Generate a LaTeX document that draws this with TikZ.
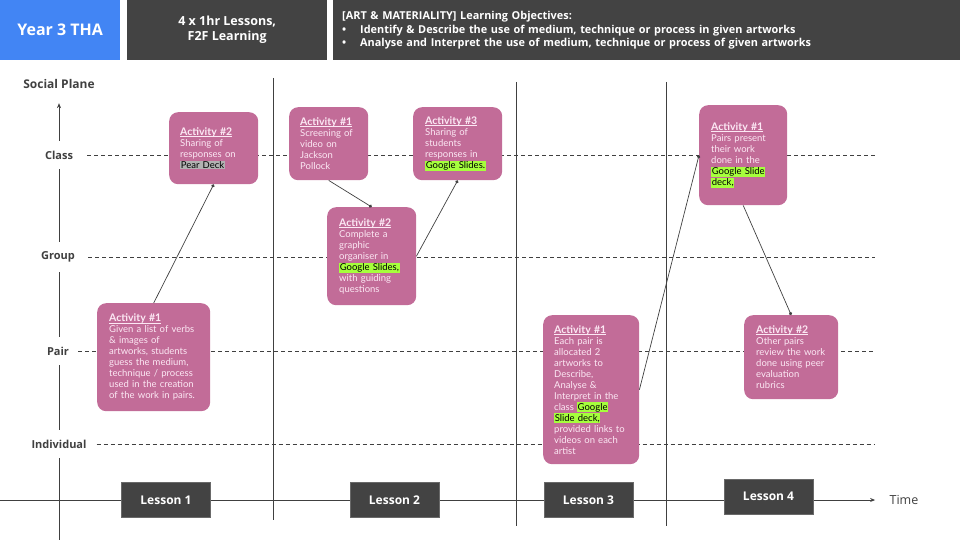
\documentclass[tikz,border=0pt]{standalone}
\usepackage{fontspec}
\setmainfont{Lato}
\newfontfamily\headfont{Open Sans}
\usetikzlibrary{arrows.meta, positioning, calc}
\definecolor{headblue}{RGB}{66,133,244}
\definecolor{headgray}{RGB}{67,67,67}
\definecolor{actpink}{RGB}{194,108,152}
\definecolor{acttext}{RGB}{252,232,244}
\definecolor{hlgreen}{RGB}{166,255,60}
\definecolor{hlgray}{RGB}{178,178,178}
\definecolor{axisgray}{RGB}{64,64,64}
\newcommand{\hlgreen}[1]{{\setlength{\fboxsep}{0.6pt}\colorbox{hlgreen}{\textcolor{black}{#1}}}}
\newcommand{\hlgray}[1]{{\setlength{\fboxsep}{0.6pt}\colorbox{hlgray}{\textcolor{black}{#1}}}}
\newcommand{\acttitle}[1]{{\fontsize{10.5}{11}\selectfont\bfseries\setbox0\hbox{#1}\rlap{\rule[-1.4pt]{\wd0}{0.6pt}}\box0}}

\begin{document}
\begin{tikzpicture}[x=1pt, y=-1pt,
  headbox/.style={fill=headgray, text=white, font=\headfont\bfseries\fontsize{12.5}{15}\selectfont, align=center, anchor=north west, inner sep=0pt},
  plane/.style={fill=white, text=axisgray, font=\headfont\bfseries\fontsize{11}{13}\selectfont, inner xsep=3pt, inner ysep=10pt},
  grid/.style={axisgray, line width=0.7pt, dash pattern=on 4pt off 3pt},
  sep/.style={axisgray, line width=0.8pt},
  lesson/.style={fill=headgray, draw=headgray!80, text=white, font=\headfont\bfseries\fontsize{12}{14}\selectfont, minimum width=89, minimum height=35, inner sep=0pt},
  act/.style={fill=actpink, rounded corners=9pt, text=acttext, inner sep=0pt, align=left, anchor=north west, font=\fontsize{9.5}{11}\selectfont},
  link/.style={axisgray, line width=0.7pt, -{Circle[length=3.2pt]}}]
  \useasboundingbox (0,0) rectangle (960,540);

  % header
  \node[headbox, fill=headblue, minimum width=120, minimum height=60, font=\headfont\bfseries\fontsize{16}{19}\selectfont] (year) at (0,0) {Year 3 THA};
  \node[headbox, minimum width=200, minimum height=60] (lessons) at (127,0) {4 x 1hr Lessons,\\F2F Learning};
  \node[headbox, minimum width=627, minimum height=60, text width=609, inner xsep=9pt, align=left, font=\headfont\bfseries\fontsize{10.9}{13.8}\selectfont] (objectives) at (333,0)
    {[ART \& MATERIALITY] Learning Objectives:\\
     \makebox[18pt][l]{\textbullet}Identify \& Describe the use of medium, technique or process in given artworks\\
     \makebox[18pt][l]{\textbullet}Analyse and Interpret the use of medium, technique or process of given artworks};

  % axes
  \node[text=axisgray, font=\headfont\bfseries\fontsize{12}{14}\selectfont] (social) at (59,84) {Social Plane};
  \coordinate (vbot) at (59,540);
  \draw[sep, -{Stealth[length=5pt, width=4pt]}] (vbot) -- ($(social.south)+(0,11)$);
  \node[text=axisgray, font=\headfont\fontsize{12.5}{15}\selectfont] (time) at (904,500) {Time};
  \coordinate (tstart) at (0,500);
  \draw[sep, -{Stealth[length=5pt, width=4pt]}] (tstart) -- ([xshift=-11pt]time.west);

  \node[plane] (cls) at (59,155) {Class};
  \node[plane] (grp) at (58,257) {Group};
  \node[plane] (pair) at (58,351) {Pair};
  \node[plane] (ind) at (59,444) {Individual};
  \coordinate (dend) at (875,0);
  \draw[grid] ([xshift=11pt]cls.east) -- (cls -| dend);
  \draw[grid] ([xshift=10pt]grp.east) -- (grp -| dend);
  \draw[grid] ([xshift=6pt]pair.east) -- (pair -| dend);
  \draw[grid] ([xshift=7pt]ind.east) -- (ind -| dend);

  % lesson separators
  \draw[sep] (273,78) -- (273,520);
  \draw[sep] (516,82) -- (516,526);
  \draw[sep] (666,82) -- (666,526);

  \node[lesson] (les1) at (166,500) {Lesson 1};
  \node[lesson] (les2) at (394.5,500) {Lesson 2};
  \node[lesson] (les3) at (588.5,500) {Lesson 3};
  \node[lesson] (les4) at (768.5,496.5) {Lesson 4};

  % lesson 1
  \node[act, text width=67, minimum width=89, minimum height=72] (l1b) at (169,112)
    {\acttitle{Activity \#2}\\Sharing of\\responses on\\\hlgray{Pear Deck}};
  \node[act, text width=89, minimum width=113, minimum height=108] (l1a) at (97,303)
    {\acttitle{Activity \#1}\\Given a list of verbs\\\& images of\\artworks, students\\guess the medium,\\technique / process\\used in the creation\\of the work in pairs.\\[6pt]};
  \draw[link] (l1a.north) -- (l1b.south);

  % lesson 2
  \node[act, text width=57, minimum width=79, minimum height=73] (l2a) at (289,107)
    {\acttitle{Activity \#1}\\Screening of\\video on\\Jackson\\Pollock};
  \node[act, text width=65, minimum width=89, minimum height=98] (l2b) at (327,207)
    {\acttitle{Activity \#2}\\Complete a\\graphic\\organiser in\\\hlgreen{Google Slides,}\\with guiding\\questions};
  \node[act, text width=65, minimum width=89, minimum height=73] (l2c) at (413,107)
    {\acttitle{Activity \#3}\\Sharing of\\students\\responses in\\\hlgreen{Google Slides.}};
  \draw[link] (l2a.south) -- (l2b.north);
  \draw[link] (l2b.east) -- (l2c.south);

  % lesson 3
  \node[act, text width=74, minimum width=96, minimum height=149] (l3a) at (543,315)
    {\acttitle{Activity \#1}\\Each pair is\\allocated 2\\artworks to\\Describe,\\Analyse \&\\Interpret in the\\class \hlgreen{Google}\\\hlgreen{Slide deck,}\\provided links to\\videos on each\\artist};

  % lesson 4
  \node[act, text width=64, minimum width=88, minimum height=100] (l4a) at (699,105)
    {\acttitle{Activity \#1}\\Pairs present\\their work\\done in the\\\hlgreen{Google Slide}\\\hlgreen{deck,}};
  \node[act, text width=70, minimum width=94, minimum height=84] (l4b) at (744,315)
    {\acttitle{Activity \#2}\\Other pairs\\review the work\\done using peer\\evaluation\\rubrics};
  \draw[link] (l3a.east) -- (l4a.west);
  \draw[link] (l4a.south) -- (l4b.north);
\end{tikzpicture}
\end{document}
